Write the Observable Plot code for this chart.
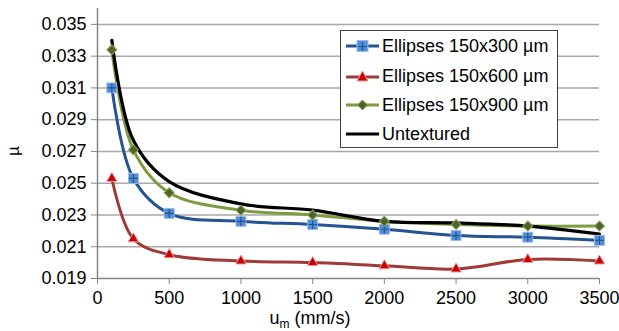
<!DOCTYPE html>
<html>
<head>
<meta charset="utf-8">
<script src="https://cdn.jsdelivr.net/npm/d3@7"></script>
<script src="https://cdn.jsdelivr.net/npm/@observablehq/plot@0.6"></script>
<style>
  html, body { margin: 0; padding: 0; background: #fff; }
  #wrap { position: relative; width: 619px; height: 331px; font-family: "Liberation Sans", Arial, sans-serif; }
  #legend { position: absolute; left: 340px; top: 30px; width: 216px; height: 116px; border: 1px solid #404040; background: #fff; }
  .row { position: absolute; left: 0; height: 30px; display: flex; align-items: center; font-size: 18px; color: #000; white-space: nowrap; }
  .row svg { margin-left: 5px; margin-right: 3px; }
</style>
</head>
<body>
<div id="wrap"></div>
<script>
// ---- data ----
const speeds = [100, 250, 500, 1000, 1500, 2000, 2500, 3000, 3500];
const mu300 = [0.0310, 0.0253, 0.0231, 0.0226, 0.0224, 0.0221, 0.0217, 0.0216, 0.0214];
const mu600 = [0.0253, 0.0215, 0.0205, 0.0201, 0.0200, 0.0198, 0.0196, 0.0202, 0.0201];
const mu900 = [0.0334, 0.0271, 0.0244, 0.0233, 0.0230, 0.0226, 0.0224, 0.0223, 0.0223];
const muUntextured = [0.0340, 0.0277, 0.0251, 0.0237, 0.0233, 0.0226, 0.0225, 0.0223, 0.0218];
const seriesNames = ["Ellipses 150x300 µm", "Ellipses 150x600 µm", "Ellipses 150x900 µm", "Untextured"];
const xTicks = [0, 500, 1000, 1500, 2000, 2500, 3000, 3500];
const yTicks = [0.019, 0.021, 0.023, 0.025, 0.027, 0.029, 0.031, 0.033, 0.035];

const seriesValues = [mu300, mu600, mu900, muUntextured];
const rows = seriesNames.map((name, i) => speeds.map((x, j) => ({series: name, x, y: seriesValues[i][j]})));
const [r300, r600, r900, rUn] = rows;

const blueLine = "#24548f", blueFill = "#4f8ed8", blueEdge = "#9dbbe3";
const redLine = "#9e3a38", redFill = "#cc0000", redEdge = "#e9a3a3";
const greenLine = "#7d9b3f", greenFill = "#4f6228", greenEdge = "#8aa35a";

const chart = Plot.plot({
  width: 619,
  height: 331,
  marginLeft: 97,
  marginRight: 20,
  marginTop: 8,
  marginBottom: 53,
  style: {fontFamily: "'Liberation Sans', Arial, sans-serif", fontSize: "18px", color: "#000", background: "#fff"},
  x: {domain: [0, 3500]},
  y: {domain: [0.019, 0.036]},
  marks: [
    Plot.gridY(yTicks.slice(1), {stroke: "#a9a9a9", strokeOpacity: 1, strokeWidth: 1.5}),
    Plot.ruleX([0], {stroke: "#868686", strokeWidth: 1.5}),
    Plot.ruleY([0.019], {stroke: "#868686", strokeWidth: 1.5}),
    Plot.axisY({ticks: yTicks, tickFormat: d3.format(".3f"), tickSize: 6, tickPadding: 5, stroke: "#868686", fill: "#000", label: null}),
    Plot.axisX({ticks: xTicks, tickFormat: d => String(d), tickSize: 6, tickPadding: 7, stroke: "#868686", fill: "#000", label: null}),
    // blue
    Plot.line(r300, {x: "x", y: "y", stroke: blueLine, strokeWidth: 3, curve: "catmull-rom"}),
    // red
    Plot.line(r600, {x: "x", y: "y", stroke: redLine, strokeWidth: 3, curve: "catmull-rom"}),
    // green
    Plot.line(r900, {x: "x", y: "y", stroke: greenLine, strokeWidth: 3, curve: "catmull-rom"}),
    // untextured
    Plot.line(rUn, {x: "x", y: "y", stroke: "#000", strokeWidth: 3.2, curve: "catmull-rom"}),
    // markers
    Plot.dot(r300, {x: "x", y: "y", symbol: "square", r: 5.6, fill: blueFill, stroke: blueEdge, strokeWidth: 1}),
    Plot.dot(r300, {x: "x", y: "y", symbol: "plus", r: 3.0, fill: "none", stroke: blueLine, strokeWidth: 1.2}),
    Plot.dot(r600, {x: "x", y: "y", symbol: "triangle", r: 3.9, fill: redFill, stroke: redEdge, strokeWidth: 1}),
    Plot.dot(r900, {x: "x", y: "y", symbol: "square", rotate: 45, r: 4.0, fill: greenFill, stroke: greenEdge, strokeWidth: 1})
  ]
});

const wrap = document.getElementById("wrap");
wrap.appendChild(chart);

// axis titles as real text
const svg = d3.select(chart);
svg.append("text")
  .attr("transform", "translate(19,151) rotate(-90)")
  .attr("text-anchor", "middle")
  .attr("font-size", 17)
  .attr("fill", "#000")
  .text("µ");
const xt = svg.append("text")
  .attr("x", 310).attr("y", 324)
  .attr("text-anchor", "middle")
  .attr("font-size", 18)
  .attr("fill", "#000");
xt.append("tspan").text("u");
xt.append("tspan").attr("font-size", 12).attr("dy", 4).text("m");
xt.append("tspan").attr("dy", -4).text(" (mm/s)");

// legend
const legend = document.createElement("div");
legend.id = "legend";
const icons = [
  `<svg width="33" height="14"><line x1="0" y1="7" x2="33" y2="7" stroke="${blueLine}" stroke-width="3"/><rect x="11" y="1.5" width="11" height="11" fill="${blueFill}" stroke="${blueEdge}"/><path d="M16.5 3V12M12 7.5H21" stroke="${blueLine}" stroke-width="1.2"/></svg>`,
  `<svg width="33" height="14"><line x1="0" y1="8" x2="33" y2="8" stroke="${redLine}" stroke-width="3"/><path d="M16.5 2L22 12H11Z" fill="${redFill}" stroke="${redEdge}"/></svg>`,
  `<svg width="33" height="14"><line x1="0" y1="7" x2="33" y2="7" stroke="${greenLine}" stroke-width="3"/><path d="M16.5 2L21.5 7L16.5 12L11.5 7Z" fill="${greenFill}" stroke="${greenEdge}"/></svg>`,
  `<svg width="33" height="14"><line x1="0" y1="7" x2="33" y2="7" stroke="#000" stroke-width="3"/></svg>`
];
const tops = [0, 30, 59, 88];
seriesNames.forEach((name, i) => {
  const row = document.createElement("div");
  row.className = "row";
  row.style.top = tops[i] + "px";
  row.innerHTML = icons[i] + "<span>" + name + "</span>";
  legend.appendChild(row);
});
wrap.appendChild(legend);
</script>
</body>
</html>
